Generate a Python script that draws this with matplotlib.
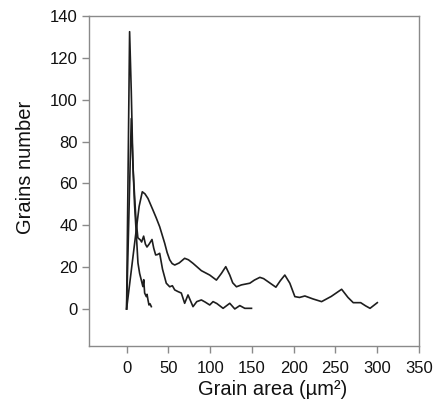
import matplotlib
matplotlib.use("Agg")
import matplotlib.pyplot as plt

# grain size distributions
area_a = [0, 3.6, 5.6, 7.5, 9.5, 11.6, 13.6, 15.6, 17.6, 19.5, 20.5, 21.6, 23.6, 24.5, 25.6,
          26.8, 28, 29.6]
count_a = [0, 132.5, 104, 70, 50, 36, 22, 17, 13.8, 10.7, 14, 7.6, 5.9, 7, 4.3,
           1.9, 2.5, 1.1]

area_b = [0, 5.6, 8, 11, 13.5, 16.4, 18, 20.4, 22.5, 24.4, 27, 30.4, 32.5, 34.8, 37, 39.6,
          43, 47.5, 51.6, 54.8, 57.6, 61.5, 65.5, 69.5, 73.5, 79.5, 84, 89.5, 94, 99.5,
          103.5, 108, 115.5, 123.5, 129.5, 135.5, 141.5, 149.5]
count_b = [0, 91, 65, 44, 34, 33, 32, 34.8, 31, 29.6, 31, 33.2, 29, 25.8, 26, 26.6,
           19, 12.3, 10.6, 11.1, 9.1, 8.3, 7.6, 2.7, 6.7, 1.1, 3.5, 4.3, 3.3, 1.9,
           3.5, 2.6, 0.3, 2.7, 0, 1.6, 0.3, 0.3]

area_c = [0, 15, 18.8, 22, 25.6, 31.5, 35.5, 39.6, 45.6, 48.5, 51.6, 54.5, 57.6, 63, 69.5,
          74, 79.5, 89.5, 99.5, 107.5, 113.5, 118.7, 123.5, 127, 131.5, 137.5, 147.5, 153,
          159.5, 164, 169.4, 178.7, 184, 189.4, 195.4, 201.4, 207, 213.4, 223, 233.4, 245,
          257.4, 265, 271.3, 280.2, 286, 291.4, 300.1]
count_c = [0, 49, 56, 55, 52.8, 47.3, 43.5, 39.3, 31.4, 27, 23.5, 21.7, 21, 22, 24.2,
           23.5, 21.8, 18.3, 16.2, 13.8, 17, 20.2, 16.2, 12.5, 10.6, 11.5, 12.3, 13.8,
           15.1, 14.5, 13, 10.4, 13.5, 16.2, 12.3, 5.9, 5.5, 6.2, 4.8, 3.5, 6,
           9.4, 5.5, 3, 3, 1.5, 0.3, 3]

xticks = [0, 50, 100, 150, 200, 250, 300, 350]
yticks = [0, 20, 40, 60, 80, 100, 120, 140]

plt.rcParams['font.family'] = ['Liberation Sans', 'DejaVu Sans']

fig = plt.figure(figsize=(4.38, 4.16), dpi=100)
ax = fig.add_axes([0.2032, 0.1683, 0.7534, 0.7932])

for xs, ys in [(area_c, count_c), (area_b, count_b), (area_a, count_a)]:
    ax.plot(xs, ys, color='#1e1e1e', lw=1.2, solid_joinstyle='round')

ax.set_xlim(-45, 350)
ax.set_ylim(-17.7, 140)
ax.set_xticks(xticks)
ax.set_yticks(yticks)

for s in ax.spines.values():
    s.set_color('#8a8a8a')
    s.set_linewidth(1.0)
ax.tick_params(colors='#8a8a8a', labelcolor='#111111', length=5, width=1.0, labelsize=12)
ax.tick_params(axis='x', pad=6)
ax.tick_params(axis='y', pad=3)

ax.set_xlabel('Grain area (µm²)', fontsize=14.5, color='#111111')
ax.set_ylabel('Grains number', fontsize=14.5, color='#111111')
ax.xaxis.set_label_coords(0.557, -0.104)
ax.yaxis.set_label_coords(-0.164, 0.542)

fig.savefig('out.png', dpi=100)
